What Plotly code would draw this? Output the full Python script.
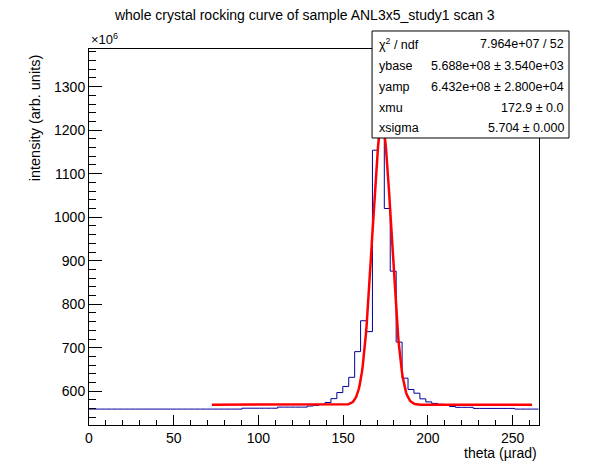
import numpy as np
import plotly.graph_objects as go

# histogram: 76 bins of 3.5 urad starting at -0.7 urad, values in units of 1e6
bin_lo = -0.7
bin_w = 3.5
counts = [
    559, 559, 559, 559, 559, 559, 559, 559, 559, 559,
    559, 559, 559, 559, 559, 559, 559, 559, 559, 559,
    559, 559, 559, 559, 559, 559,
    561, 561, 561, 561, 561, 561,
    563.5, 563.5, 563.5, 563.5, 563.5,
    566, 567.5, 570,
    574, 583, 597, 611, 632, 691, 762, 737, 1154, 1260,
    1020, 876, 713, 630, 604, 595.5, 582.5, 575.5, 572, 570,
    568, 565, 563, 563, 563,
    560.5, 560.5, 560.5, 560.5, 560.5, 560.5, 560.5,
    559, 559, 559, 559,
]

# fit results from the stats box (intensity in 1e6)
ybase = 568.8
yamp = 643.2
xmu = 172.9
xsigma = 5.704
fit_lo, fit_hi = 72.5, 261.5

stat_names = ["χ<sup>2</sup> / ndf", "ybase", "yamp", "xmu", "xsigma"]
stat_values = ["7.964e+07 / 52", "5.688e+08 ± 3.540e+03", "6.432e+08 ± 2.800e+04",
               "172.9 ± 0.0", "5.704 ± 0.000"]

edges = [bin_lo + bin_w * i for i in range(len(counts) + 1)]
step_x = edges
step_y = counts + [counts[-1]]

fx = np.linspace(fit_lo, fit_hi, 400)
fy = ybase + yamp * np.exp(-0.5 * ((fx - xmu) / xsigma) ** 2)

FONT = "Liberation Sans, Arial, Helvetica, sans-serif"

fig = go.Figure()

fig.add_trace(go.Scatter(
    x=step_x, y=step_y,
    mode='lines',
    line=dict(color='#000099', width=1, shape='hv'),
    showlegend=False, hoverinfo='skip'
))

fig.add_trace(go.Scatter(
    x=fx, y=fy,
    mode='lines',
    line=dict(color='#ff0000', width=2.5),
    showlegend=False, hoverinfo='skip'
))

# the page body adds an 8px offset, so the figure is 590x466
fig.update_layout(
    width=590, height=466,
    margin=dict(l=81, r=59, t=41, b=49),
    paper_bgcolor='white', plot_bgcolor='white',
    font=dict(family=FONT, size=14, color='black'),
    title=dict(
        text="whole crystal rocking curve of sample ANL3x5_study1 scan 3",
        x=0.503, xanchor='center', y=0.995, yanchor='top',
        xref='container', yref='container',
        font=dict(size=14)
    ),
    xaxis=dict(
        range=[0, 265.6], showgrid=False, zeroline=False,
        showline=True, linecolor='black', linewidth=1, mirror=True,
        ticks='inside', ticklen=10, tickcolor='black', tickwidth=1,
        tick0=0, dtick=50,
        minor=dict(dtick=10, ticks='inside', ticklen=5, tickcolor='black', showgrid=False),
        tickfont=dict(size=14),
    ),
    yaxis=dict(
        range=[522.4, 1386.6], showgrid=False, zeroline=False,
        showline=True, linecolor='black', linewidth=1, mirror=True,
        ticks='inside', ticklen=13, tickcolor='black', tickwidth=1,
        tick0=0, dtick=100,
        minor=dict(dtick=20, ticks='inside', ticklen=7, tickcolor='black', showgrid=False),
        tickfont=dict(size=14),
    ),
)

# axis titles and exponent label
fig.add_annotation(text="intensity (arb. units)", textangle=-90,
                   xref='paper', yref='paper', x=-0.12, y=0.99,
                   xanchor='center', yanchor='top', showarrow=False,
                   font=dict(size=14.5))
fig.add_annotation(text="theta (µrad)", xref='paper', yref='paper',
                   x=1.0, y=-0.074, xanchor='right', yanchor='middle',
                   showarrow=False, font=dict(size=14))
fig.add_annotation(text="×10<sup>6</sup>", xref='paper', yref='paper',
                   x=0.0, y=1.0, xanchor='left', yanchor='bottom',
                   showarrow=False, font=dict(size=13))

# stats box
fig.add_shape(type='rect', xref='paper', yref='paper',
              x0=0.629, x1=1.0667, y0=0.7633, y1=1.0479,
              line=dict(color='black', width=1), fillcolor='white', layer='above')
row_y = [1.0133, 0.9548, 0.8997, 0.8423, 0.7891]
for name, val, yy in zip(stat_names, stat_values, row_y):
    fig.add_annotation(text=name, xref='paper', yref='paper', x=0.64, y=yy,
                       xanchor='left', yanchor='middle', showarrow=False,
                       font=dict(size=12.5))
    fig.add_annotation(text=val, xref='paper', yref='paper', x=1.059, y=yy,
                       xanchor='right', yanchor='middle', showarrow=False,
                       font=dict(size=12.5))

fig.write_html("out.html")
